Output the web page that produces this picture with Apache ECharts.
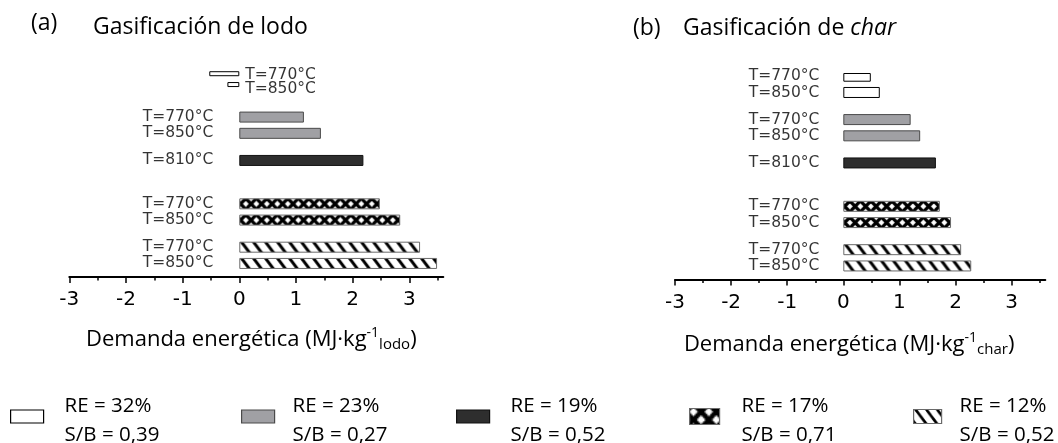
<!DOCTYPE html>
<html>
<head>
<meta charset="utf-8">
<script src="https://cdn.jsdelivr.net/npm/echarts@6/dist/echarts.min.js"></script>
<style>
  html, body { margin: 0; padding: 0; background: #fff; }
  #chart { width: 1058px; height: 443px; }
</style>
</head>
<body>
<div id="chart"></div>
<script>
// Temperature of each bar row, top to bottom (same rows in both panels)
const rowLabels = ['T=770°C', 'T=850°C', 'T=770°C', 'T=850°C', 'T=810°C', 'T=770°C', 'T=850°C', 'T=770°C', 'T=850°C'];
// Process configuration (legend entry) of each row
const rowConfig = [0, 0, 1, 1, 2, 3, 3, 4, 4];
// Energy demand, MJ per kg of sludge (a) and MJ per kg of char (b)
const demandLodo = [-0.53, -0.21, 1.14, 1.44, 2.19, 2.48, 2.84, 3.19, 3.49];
const demandChar = [0.49, 0.65, 1.20, 1.37, 1.65, 1.72, 1.92, 2.10, 2.28];
// Legend entries
const configRE = ['RE = 32%', 'RE = 23%', 'RE = 19%', 'RE = 17%', 'RE = 12%'];
const configSB = ['S/B = 0,39', 'S/B = 0,27', 'S/B = 0,52', 'S/B = 0,71', 'S/B = 0,52'];
// Axis ticks
const majorTicks = [-3, -2, -1, 0, 1, 2, 3];
const minorTicks = [-2.5, -1.5, -0.5, 0.5, 1.5, 2.5, 3.5];

// ---- layout -------------------------------------------------------------
const X_MIN = -3, X_MAX = 3.6, SLOT_COUNT = 38, BAR_W = 11;
const panels = [
  { values: demandLodo, unit: 'lodo', left: 69.3, width: 374, top: 71, height: 206,
    slots: [0, 2, 8, 11, 16, 24, 27, 32, 35], labelGap: 26, negGap: 6,
    nudge: { 0: [0, 1], 1: [0, 4] }, thinFirst: true, nameGap: 49, namePad: 10 },
  { values: demandChar, unit: 'char', left: 675, width: 370.3, top: 73.5, height: 206,
    slots: [0, 3, 8, 11, 16, 24, 27, 32, 35], labelGap: 24, negGap: 6,
    nudge: {}, thinFirst: false, nameGap: 51.5, namePad: 22 }
];
const legendPos = [
  { x: 10, w: 33, h: 13, textX: 64 },
  { x: 241, w: 33, h: 13, textX: 292 },
  { x: 456, w: 33, h: 13, textX: 510 },
  { x: 689, w: 30, h: 16, textX: 741 },
  { x: 913, w: 28, h: 14, textX: 959 }
];
const LEGEND_CY = 418;

// ---- fill patterns ------------------------------------------------------
function crossTile() {
  const c = document.createElement('canvas');
  const cw = 10.5, h = 11;
  c.width = 21; c.height = h;
  const g = c.getContext('2d');
  g.fillStyle = '#fff'; g.fillRect(0, 0, c.width, h);
  g.strokeStyle = '#000'; g.lineWidth = 3.3;
  for (let k = -1; k <= 2; k++) {
    const x0 = k * cw, x1 = (k + 1) * cw;
    g.beginPath(); g.moveTo(x0 - cw * 0.5, -h * 0.5); g.lineTo(x1 + cw * 0.5, h * 1.5); g.stroke();
    g.beginPath(); g.moveTo(x1 + cw * 0.5, -h * 0.5); g.lineTo(x0 - cw * 0.5, h * 1.5); g.stroke();
  }
  return c;
}
function hatchTile() {
  const c = document.createElement('canvas');
  c.width = 12; c.height = 16;
  const g = c.getContext('2d');
  g.fillStyle = '#fff'; g.fillRect(0, 0, 12, 16);
  g.strokeStyle = '#000'; g.lineWidth = 3;
  for (const dx of [-12, 0, 12]) {
    g.beginPath(); g.moveTo(dx - 3, -4); g.lineTo(dx + 15, 20); g.stroke();
  }
  return c;
}
const CROSS = crossTile(), HATCH = hatchTile();

const configStyle = [
  { fill: '#ffffff', border: '#000000' },
  { fill: '#a0a0a4', border: '#4a4a4a' },
  { fill: '#2e2e2e', border: '#111111' },
  { pattern: CROSS, phase: 6.5, border: '#6a6a6a' },
  { pattern: HATCH, phase: 2, border: '#6a6a6a' }
];
function fillFor(cfg, x0, top, scale) {
  const st = configStyle[cfg];
  if (!st.pattern) return st.fill;
  const s = scale || 1;
  return { image: st.pattern, repeat: 'repeat', x: x0 + st.phase, y: top, scaleX: s, scaleY: s };
}

// ---- build option -------------------------------------------------------
const slotNames = Array.from({ length: SLOT_COUNT }, (_, i) => String(i));
const grid = [], xAxis = [], yAxis = [], series = [];

panels.forEach((p, pi) => {
  grid.push({ left: p.left, top: p.top, width: p.width, height: p.height });
  const band = p.height / SLOT_COUNT;
  const zeroX = p.left + (0 - X_MIN) / (X_MAX - X_MIN) * p.width;

  const xMain = xAxis.length;
  xAxis.push({
    gridIndex: pi, type: 'value', min: X_MIN, max: X_MAX, position: 'bottom',
    axisLine: { show: true, onZero: false, lineStyle: { color: '#000', width: 2 } },
    axisTick: { show: true, customValues: majorTicks, length: 6, lineStyle: { color: '#000', width: 1.5 } },
    axisLabel: { customValues: majorTicks, margin: 13, fontFamily: 'DejaVu Sans', fontSize: 20, color: '#000' },
    splitLine: { show: false },
    name: 'Demanda energética (MJ·kg{sup|-1}{sub|' + p.unit + '})',
    nameLocation: 'middle', nameGap: p.nameGap,
    nameTextStyle: {
      fontFamily: 'Open Sans', fontSize: 22, color: '#000', padding: [0, p.namePad, 0, 0],
      rich: {
        sup: { fontFamily: 'Open Sans', fontSize: 14, color: '#000', padding: [0, 0, 14, 0] },
        sub: { fontFamily: 'Open Sans', fontSize: 15, color: '#000', padding: [10, 0, 0, 0] }
      }
    }
  });
  xAxis.push({
    gridIndex: pi, type: 'value', min: X_MIN, max: X_MAX, position: 'bottom',
    axisLine: { show: false }, axisLabel: { show: false }, splitLine: { show: false },
    axisTick: { show: true, customValues: minorTicks, length: 3.5, lineStyle: { color: '#000', width: 1.5 } }
  });

  const yMain = yAxis.length;
  const hiddenCat = {
    gridIndex: pi, type: 'category', inverse: true, data: slotNames,
    axisLine: { show: false }, axisTick: { show: false }, axisLabel: { show: false }, splitLine: { show: false }
  };
  yAxis.push(Object.assign({}, hiddenCat));
  let yThin = yMain;
  if (p.thinFirst) { yThin = yAxis.length; yAxis.push(Object.assign({}, hiddenCat)); }

  configRE.forEach((name, cfg) => {
    const thin = p.thinFirst && cfg === 0;
    const bw = thin ? 5 : BAR_W;
    const data = slotNames.map(() => '-');
    p.values.forEach((v, i) => {
      if (rowConfig[i] !== cfg) return;
      const slot = p.slots[i];
      const top = p.top + (slot + 0.5) * band - bw / 2;
      data[slot] = {
        value: v,
        itemStyle: { color: fillFor(cfg, zeroX, top), borderColor: configStyle[cfg].border, borderWidth: 1 }
      };
    });
    series.push({
      type: 'bar', name, xAxisIndex: xMain, yAxisIndex: thin ? yThin : yMain,
      barWidth: bw, barGap: '-100%',
      itemStyle: { color: fillFor(cfg, zeroX, 0), borderColor: configStyle[cfg].border, borderWidth: 1 },
      emphasis: { disabled: true },
      data
    });
  });

  // temperature tags next to the zero line
  series.push({
    type: 'scatter', xAxisIndex: xMain, yAxisIndex: yMain, symbolSize: 0, silent: true, z: 5,
    label: {
      show: true, formatter: (q) => rowLabels[q.dataIndex],
      fontFamily: 'DejaVu Sans', fontSize: 15.5, color: '#000'
    },
    data: p.values.map((v, i) => ({
      value: [0, p.slots[i]],
      label: {
        position: v < 0 ? 'right' : 'left',
        distance: v < 0 ? p.negGap : p.labelGap,
        offset: p.nudge[i] || [0, 0]
      }
    }))
  });
});

// one legend block per configuration: swatch + two text lines
const legend = configRE.map((name, cfg) => {
  const lp = legendPos[cfg];
  const iconTop = LEGEND_CY - lp.h / 2;
  return {
    left: lp.x, top: LEGEND_CY - 33.5, padding: 0, orient: 'horizontal',
    itemWidth: lp.w, itemHeight: lp.h, icon: 'rect', selectedMode: false,
    data: [{
      name,
      itemStyle: {
        color: fillFor(cfg, lp.x - configStyle[cfg].phase + (cfg === 3 ? 0 : 2), iconTop, cfg === 3 ? 1.45 : 0.9),
        borderColor: configStyle[cfg].border, borderWidth: 1.2
      }
    }],
    formatter: (n) => '{gap| }\n{ln|' + n + '}\n{ln|' + configSB[cfg] + '}',
    textStyle: {
      fontFamily: 'Open Sans', fontSize: 20.5, color: '#000',
      padding: [0, 0, 0, lp.textX - lp.x - lp.w - 5],
      rich: {
        gap: { fontSize: 6, lineHeight: 9 },
        ln: { fontFamily: 'Open Sans', fontSize: 20.5, color: '#000', lineHeight: 29 }
      }
    }
  };
});

const titleFont = { fontFamily: 'Open Sans', fontSize: 23, fontWeight: 'normal', color: '#000' };
const option = {
  animation: false,
  backgroundColor: '#fff',
  title: [
    { text: '(a)', left: 31, top: 12, padding: 0, textStyle: titleFont },
    { text: 'Gasificación de lodo', left: 93, top: 16, padding: 0, textStyle: titleFont },
    { text: '(b)', left: 633, top: 17, padding: 0, textStyle: titleFont },
    {
      text: 'Gasificación de {i|char}', left: 683, top: 17, padding: 0,
      textStyle: Object.assign({}, titleFont, {
        rich: { i: { fontFamily: 'Open Sans', fontSize: 23, fontStyle: 'italic', color: '#000' } }
      })
    }
  ],
  legend,
  grid, xAxis, yAxis, series
};

const chart = echarts.init(document.getElementById('chart'));
chart.setOption(option);
</script>
</body>
</html>
